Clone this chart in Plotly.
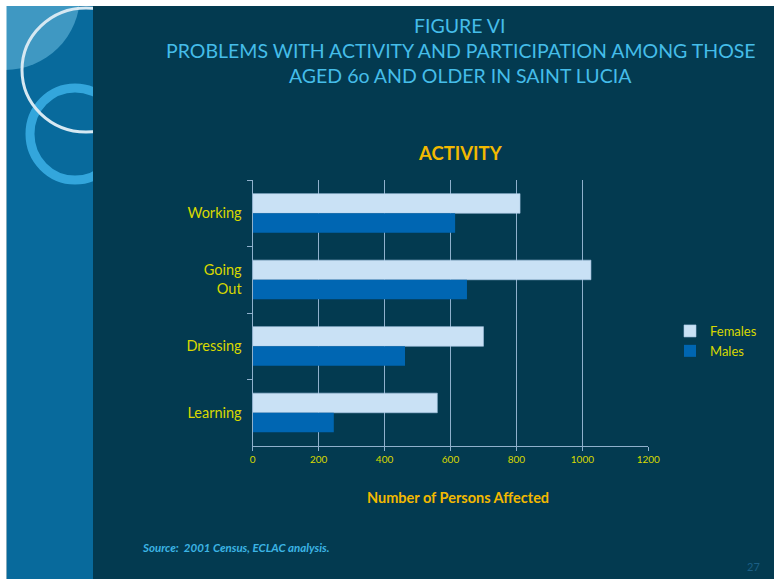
import plotly.graph_objects as go

categories = ["Working", "Going<br>Out", "Dressing", "Learning"]
females = [811, 1026, 700, 560]
males = [614, 650, 462, 246]
x_ticks = [0, 200, 400, 600, 800, 1000, 1200]

W, H = 774, 579
BG = "#033a50"
STRIP = "#086a9c"
YEL = "#d8d800"
ORANGE = "#f2b900"
TITLE = "#45bde9"
GRID = "#8fb0cc"
FONT = "Lato, 'Open Sans', sans-serif"

def px(x):
    return x / W

def py(y):
    return 1 - y / H

fig = go.Figure()
fig.add_trace(go.Bar(name="Females", y=categories, x=females, orientation="h",
                     marker=dict(color="#c9e1f5", line=dict(color="#a9c8e4", width=0.6))))
fig.add_trace(go.Bar(name="Males", y=categories, x=males, orientation="h",
                     marker=dict(color="#0066b2", line=dict(width=0))))

shapes = [
    dict(type="rect", xref="paper", yref="paper", x0=px(6.5), x1=px(93), y0=0, y1=py(6),
         fillcolor=STRIP, line=dict(width=0), layer="below"),
    dict(type="circle", xref="paper", yref="paper", x0=px(-70), x1=px(80), y0=py(70), y1=py(-80),
         fillcolor="#3f98c2", line=dict(width=0), layer="below"),
    dict(type="circle", xref="paper", yref="paper", x0=px(30), x1=px(120), y0=py(180), y1=py(88),
         fillcolor="rgba(0,0,0,0)", line=dict(color="#33a6dc", width=9), layer="below"),
    dict(type="circle", xref="paper", yref="paper", x0=px(22), x1=px(150), y0=py(132), y1=py(8),
         fillcolor="rgba(0,0,0,0)", line=dict(color="#d6e8f2", width=3), layer="below"),
    dict(type="rect", xref="paper", yref="paper", x0=0, x1=1, y0=py(6), y1=1,
         fillcolor="white", line=dict(width=0), layer="below"),
    dict(type="rect", xref="paper", yref="paper", x0=0, x1=px(6.5), y0=0, y1=1,
         fillcolor="white", line=dict(width=0), layer="below"),
    dict(type="rect", xref="paper", yref="paper", x0=px(93), x1=px(773), y0=0, y1=py(6),
         fillcolor=BG, line=dict(width=0), layer="below"),
]

annotations = [
    dict(text="FIGURE VI", x=px(460), y=py(25), showarrow=False, xref="paper", yref="paper",
         font=dict(family=FONT, size=19.5, color=TITLE), xanchor="center", yanchor="middle"),
    dict(text="PROBLEMS WITH ACTIVITY AND PARTICIPATION AMONG THOSE", x=px(461), y=py(50),
         showarrow=False, xref="paper", yref="paper",
         font=dict(family=FONT, size=19.5, color=TITLE), xanchor="center", yanchor="middle"),
    dict(text="AGED 6o AND OLDER IN SAINT LUCIA", x=px(460), y=py(76), showarrow=False,
         xref="paper", yref="paper",
         font=dict(family=FONT, size=19.5, color=TITLE), xanchor="center", yanchor="middle"),
    dict(text="<b>ACTIVITY</b>", x=px(460), y=py(153), showarrow=False, xref="paper", yref="paper",
         font=dict(family=FONT, size=18.5, color=ORANGE), xanchor="center", yanchor="middle"),
    dict(text="<b>Number of Persons Affected</b>", x=px(458), y=py(498), showarrow=False,
         xref="paper", yref="paper",
         font=dict(family=FONT, size=14.5, color=ORANGE), xanchor="center", yanchor="middle"),
    dict(text="<b><i>Source:  2001 Census, ECLAC analysis.</i></b>", x=px(140), y=py(547),
         showarrow=False, xref="paper", yref="paper",
         font=dict(family=FONT, size=11.5, color="#3cb4e4"), xanchor="left", yanchor="middle"),
    dict(text="27", x=px(753), y=py(566), showarrow=False, xref="paper", yref="paper",
         font=dict(family=FONT, size=11, color="#1b5f85"), xanchor="center", yanchor="middle"),
]

fig.update_layout(
    width=W, height=H,
    margin=dict(l=0, r=0, t=0, b=0, autoexpand=False),
    paper_bgcolor=BG,
    plot_bgcolor="rgba(0,0,0,0)",
    barmode="group",
    bargap=0.41,
    bargroupgap=0,
    showlegend=True,
    legend=dict(x=px(670), y=py(316), xanchor="left", yanchor="top",
                font=dict(family=FONT, size=13, color=YEL), bgcolor="rgba(0,0,0,0)",
                itemwidth=30, tracegroupgap=2),
    xaxis=dict(domain=[px(252.7), px(648.3)], range=[0, 1200], tickvals=x_ticks,
               showgrid=True, gridcolor=GRID, gridwidth=1.3,
               showline=True, linecolor=GRID, linewidth=1.3,
               ticks="outside", ticklen=4, tickcolor=GRID,
               tickfont=dict(family=FONT, size=10, color=YEL), zeroline=False, fixedrange=True),
    yaxis=dict(domain=[py(446), py(180)], autorange="reversed", type="category",
               showline=True, linecolor=GRID, linewidth=1.3,
               ticks="outside", ticklen=5, tickcolor=GRID, tickson="boundaries",
               showgrid=False,
               tickfont=dict(family=FONT, size=14.5, color=YEL), ticklabelstandoff=7),
    shapes=shapes,
    annotations=annotations,
)

fig.write_html("out.html")
